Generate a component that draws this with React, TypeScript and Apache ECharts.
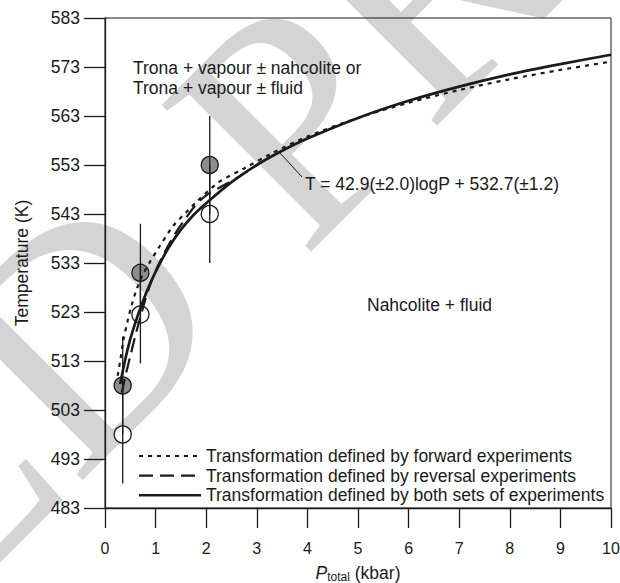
import React, { useEffect, useRef } from "react";
import * as echarts from "echarts";

// ---- data ----
const X_TICKS = [0, 1, 2, 3, 4, 5, 6, 7, 8, 9, 10];
const Y_TICKS = [483, 493, 503, 513, 523, 533, 543, 553, 563, 573, 583];

// solid: transformation defined by both sets of experiments
const P_BOTH = [0.3, 0.4, 0.5, 0.6, 0.7, 0.85, 1.0, 1.25, 1.5, 1.75, 2.0, 2.5, 3.0, 3.5, 4, 5, 6, 7, 8, 9, 10];
const T_BOTH = [508.3, 513.3, 517.5, 520.8, 523.8, 527.8, 531.2, 536.0, 539.8, 542.8, 545.2, 549.5, 553.0, 555.9, 558.4, 562.6, 566.1, 569.0, 571.5, 573.6, 575.5];

// short dashes: forward experiments
const P_FWD = [0.25, 0.3, 0.36, 0.45, 0.53, 0.62, 0.75, 0.9, 1.05, 1.35, 1.6, 1.8, 2.25, 2.75, 3.3, 4, 5, 6, 7, 8, 9, 10];
const T_FWD = [510.0, 513.0, 517.0, 521.3, 524.5, 527.5, 530.7, 533.4, 535.9, 540.6, 543.3, 545.4, 549.5, 552.3, 555.4, 558.8, 562.6, 565.7, 568.3, 570.5, 572.4, 574.1];

// long dashes: reversal experiments
const P_REV = [0.33, 0.4, 0.5, 0.6, 0.7, 0.8, 0.9, 1.0, 1.2, 1.4, 1.6, 1.8, 2.0, 2.3, 2.6, 3.0];
const T_REV = [506.5, 509.8, 514.0, 518.2, 522.0, 525.6, 528.8, 531.4, 535.6, 539.2, 542.2, 544.9, 546.8, 548.6, 550.3, 553.0];

// experimental points
const P_PTS = [0.35, 0.7, 2.07];
const T_SHADED = [508, 531, 553];
const T_OPEN = [498, 522.5, 543];
const ERR_SHADED = [10, 10, 10];
const ERR_OPEN = [10, 10, 10];

const NAME_FWD = "Transformation defined by forward experiments";
const NAME_REV = "Transformation defined by reversal experiments";
const NAME_BOTH = "Transformation defined by both sets of experiments";

const FONT = "'Liberation Sans', Arial, Helvetica, sans-serif";
const INK = "#1a1a1a";
const FS = 17.5;
const DASH_FWD = [4, 5];
const DASH_REV = [14, 7];

export default function App() {
  const ref = useRef<HTMLDivElement>(null);

  useEffect(() => {
    if (!ref.current) return;
    document.body.style.margin = "0";
    const chart = echarts.init(ref.current, undefined, { renderer: "svg" });

    const zip = (xs: number[], ys: number[]) => xs.map((x, i) => [x, ys[i]]);
    const errData = (ts: number[], es: number[]) =>
      P_PTS.map((x, i) => [x, ts[i] - es[i], ts[i] + es[i]]);

    const errRender = (params: any, api: any) => {
      const a = api.coord([api.value(0), api.value(1)]);
      const b = api.coord([api.value(0), api.value(2)]);
      return {
        type: "line",
        shape: { x1: a[0], y1: a[1], x2: b[0], y2: b[1] },
        style: { stroke: INK, lineWidth: 1.3 },
      };
    };

    const textEl = (text: string, x: number, y: number, size = FS) => ({
      type: "text",
      x,
      y,
      z: 20,
      style: {
        text,
        font: `${size}px ${FONT}`,
        fill: INK,
        textVerticalAlign: "middle",
        verticalAlign: "middle",
      },
    });

    const legendRows = [
      { name: NAME_FWD, dash: DASH_FWD, width: 2.2 },
      { name: NAME_REV, dash: DASH_REV, width: 2.2 },
      { name: NAME_BOTH, dash: null as any, width: 2.4 },
    ];
    const legendEls: any[] = [];
    legendRows.forEach((r, i) => {
      const y = 456 + i * 19.6;
      legendEls.push({
        type: "line",
        z: 20,
        shape: { x1: 139, y1: y, x2: 201, y2: y },
        style: { stroke: INK, lineWidth: r.width, lineDash: r.dash || undefined },
      });
      legendEls.push(textEl(r.name, 206, y));
    });

    const WM_FONT = "320px 'Liberation Serif', 'DejaVu Serif', serif";
    const WM_FILL = "#d4d4d4";

    const option: any = {
      animation: false,
      textStyle: { fontFamily: FONT, color: INK },
      grid: {
        left: 105,
        right: 9,
        top: 18,
        bottom: 75,
        show: true,
        borderColor: INK,
        borderWidth: 1,
        backgroundColor: "transparent",
        containLabel: false,
        outerBoundsMode: "none",
      },
      xAxis: {
        type: "value",
        min: X_TICKS[0],
        max: X_TICKS[X_TICKS.length - 1],
        interval: 1,
        axisLine: { lineStyle: { color: INK, width: 1.3 } },
        axisTick: { inside: false, length: 20, lineStyle: { color: INK, width: 1.3 } },
        axisLabel: { color: INK, fontSize: 16, fontFamily: FONT, margin: 32 },
        splitLine: { show: false },
        name: "{p|P}{s|total} {n|(kbar)}",
        nameLocation: "middle",
        nameGap: 54,
        nameTextStyle: {
          color: INK,
          fontFamily: FONT,
          fontSize: FS,
          rich: {
            p: { fontSize: FS, fontStyle: "italic", fontFamily: FONT, color: INK },
            s: { fontSize: 12, fontFamily: FONT, color: INK, padding: [9, 0, 0, 0] },
            n: { fontSize: FS, fontFamily: FONT, color: INK },
          },
        },
      },
      yAxis: {
        type: "value",
        min: Y_TICKS[0],
        max: Y_TICKS[Y_TICKS.length - 1],
        axisLine: { show: true, lineStyle: { color: INK, width: 1.3 } },
        axisTick: {
          show: true,
          inside: false,
          length: 21,
          customValues: Y_TICKS,
          lineStyle: { color: INK, width: 1.3 },
        },
        axisLabel: { color: INK, fontSize: FS, fontFamily: FONT, margin: 25, customValues: Y_TICKS },
        splitLine: { show: false },
        name: "Temperature (K)",
        nameLocation: "middle",
        nameGap: 74,
        nameTextStyle: { color: INK, fontFamily: FONT, fontSize: FS },
      },
      graphic: [
        {
          type: "group",
          x: 195,
          y: 215,
          rotation: Math.PI / 4,
          z: -10,
          silent: true,
          children: [
            {
              type: "text",
              x: -45,
              y: 0,
              z: -10,
              style: {
                text: "ACCEPTED",
                font: WM_FONT,
                fill: WM_FILL,
                textAlign: "right",
                textVerticalAlign: "middle",
                align: "right",
                verticalAlign: "middle",
              },
            },
            {
              type: "text",
              x: 45,
              y: 0,
              z: -10,
              style: {
                text: "PROOF",
                font: WM_FONT,
                fill: WM_FILL,
                textAlign: "left",
                textVerticalAlign: "middle",
                align: "left",
                verticalAlign: "middle",
              },
            },
          ],
        },
        textEl("Trona + vapour ± nahcolite or", 133, 68),
        textEl("Trona + vapour ± fluid", 133, 88),
        textEl("T = 42.9(±2.0)logP + 532.7(±1.2)", 305, 184),
        {
          type: "line",
          z: 20,
          shape: { x1: 280, y1: 153, x2: 302, y2: 177 },
          style: { stroke: INK, lineWidth: 1 },
        },
        textEl("Nahcolite + fluid", 367, 305),
        ...legendEls,
      ],
      series: [
        {
          name: "shaded points",
          type: "scatter",
          data: zip(P_PTS, T_SHADED),
          symbol: "circle",
          symbolSize: 17,
          itemStyle: { color: "#8d8d8d", borderColor: INK, borderWidth: 1.3, opacity: 1 },
          z: 2,
        },
        {
          name: "open points",
          type: "scatter",
          data: zip(P_PTS, T_OPEN),
          symbol: "circle",
          symbolSize: 17,
          itemStyle: { color: "#ffffff", borderColor: INK, borderWidth: 1.3, opacity: 1 },
          z: 2,
        },
        {
          name: "err shaded",
          type: "custom",
          data: errData(T_SHADED, ERR_SHADED),
          renderItem: errRender,
          z: 3,
        },
        {
          name: "err open",
          type: "custom",
          data: errData(T_OPEN, ERR_OPEN),
          renderItem: errRender,
          z: 3,
        },
        {
          name: NAME_FWD,
          type: "line",
          data: zip(P_FWD, T_FWD),
          showSymbol: false,
          symbol: "none",
          smooth: 0.3,
          lineStyle: { color: INK, width: 2.2, type: DASH_FWD },
          z: 4,
        },
        {
          name: NAME_REV,
          type: "line",
          data: zip(P_REV, T_REV),
          showSymbol: false,
          symbol: "none",
          smooth: 0.3,
          lineStyle: { color: INK, width: 2.2, type: DASH_REV },
          z: 4,
        },
        {
          name: NAME_BOTH,
          type: "line",
          data: zip(P_BOTH, T_BOTH),
          showSymbol: false,
          symbol: "none",
          smooth: 0.3,
          lineStyle: { color: INK, width: 2.7, type: "solid" },
          z: 5,
        },
      ],
    };

    chart.setOption(option);
    return () => chart.dispose();
  }, []);

  return (
    <div
      ref={ref}
      style={{ position: "absolute", left: 0, top: 0, width: 620, height: 583 }}
    />
  );
}
